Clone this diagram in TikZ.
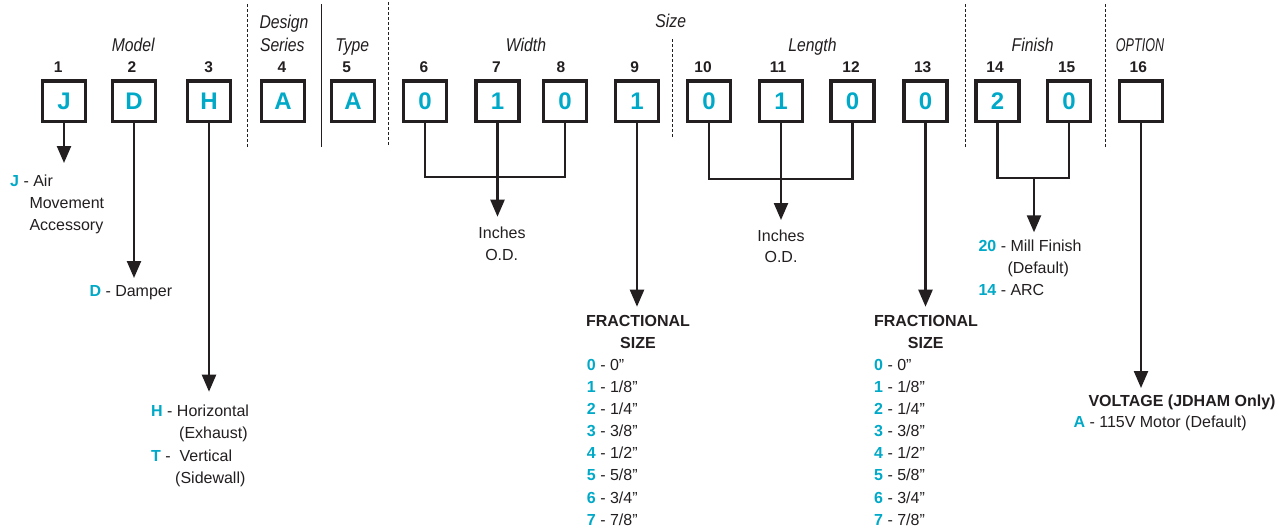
\documentclass[tikz,border=0pt]{standalone}
\usepackage{fontspec}
\setmainfont{Liberation Sans}
\newfontfamily\hdrfont[FakeStretch=0.85]{Liberation Sans}
\newfontfamily\optfont[FakeStretch=0.68]{Liberation Sans}
\usetikzlibrary{arrows.meta}
\definecolor{cy}{RGB}{0,169,199}
\definecolor{ink}{RGB}{35,31,32}
\newcommand\keyrow[5]{\node[txt] (#1) at (#2,#3) {\textcolor{cy}{\textbf{#4}} - #5};}
\begin{document}
\begin{tikzpicture}[x=1pt,y=-1pt,
 codebox/.style={draw=ink, line width=3.3pt, minimum width=43.2pt, minimum height=40.7pt, inner sep=0pt, text=cy, font=\fontsize{24}{24}\selectfont\bfseries},
 num/.style={font=\fontsize{15.5}{16}\selectfont\bfseries, text=ink, inner sep=0pt, anchor=base},
 hdr/.style={font=\fontsize{18.5}{19}\selectfont\hdrfont\itshape, text=ink, inner sep=0pt, anchor=base},
 txt/.style={font=\fontsize{16}{19}\selectfont, text=ink, inner sep=0pt, anchor=base west},
 ctxt/.style={font=\fontsize{16}{19}\selectfont, text=ink, inner sep=0pt, anchor=base},
 btxt/.style={font=\fontsize{16}{19}\selectfont\bfseries, text=ink, inner sep=0pt, anchor=base},
 conn/.style={draw=ink, line width=2.3pt},
 arr/.style={conn, -{Triangle[length=17pt,width=14pt]}},
 sep/.style={draw=ink, line width=1pt, dash pattern=on 3pt off 2pt},
 ssep/.style={draw=ink, line width=1.5pt}]
\useasboundingbox (0,0) rectangle (1287,531);
\fill[white] (0,0) rectangle (1287,531);

% separators
\draw[sep] (247.7,4) -- (247.7,147);
\draw[ssep] (321.7,4) -- (321.7,147);
\draw[sep] (388,2) -- (388,146);
\draw[sep] (672,39) -- (672,138);
\draw[sep] (965,4) -- (965,147);
\draw[sep] (1105,4) -- (1105,147);

% headers
\node[hdr] (hmodel) at (133.3,51.7) {Model};
\node[hdr] (hdesign) at (284,28.3) {Design};
\node[hdr] (hseries) at (282.3,51.7) {Series};
\node[hdr] (htype) at (352.3,51.7) {Type};
\node[hdr] (hwidth) at (526,51.7) {Width};
\node[hdr] (hsize) at (670.7,27.3) {Size};
\node[hdr] (hlength) at (812.5,51.7) {Length};
\node[hdr] (hfinish) at (1032.7,51.7) {Finish};
\node[hdr, font=\fontsize{18.5}{19}\selectfont\optfont\itshape] (hoption) at (1140,51.7) {OPTION};

% position numbers
\node[num] (n1) at (58.3,72.7) {1};
\node[num] (n2) at (132,72.7) {2};
\node[num] (n3) at (208.7,72.7) {3};
\node[num] (n4) at (282,72.7) {4};
\node[num] (n5) at (346.7,72.7) {5};
\node[num] (n6) at (424,72.7) {6};
\node[num] (n7) at (496.5,72.7) {7};
\node[num] (n8) at (561,72.7) {8};
\node[num] (n9) at (634.7,72.7) {9};
\node[num] (n10) at (703,72.7) {10};
\node[num] (n11) at (778,72.7) {11};
\node[num] (n12) at (851,72.7) {12};
\node[num] (n13) at (922.7,72.7) {13};
\node[num] (n14) at (995,72.7) {14};
\node[num] (n15) at (1066.7,72.7) {15};
\node[num] (n16) at (1138.3,72.7) {16};

% code boxes
\node[codebox] (b1) at (64,101.3) {J};
\node[codebox] (b2) at (134,101.3) {D};
\node[codebox] (b3) at (209,101.3) {H};
\node[codebox] (b4) at (283,101.3) {A};
\node[codebox] (b5) at (353,101.3) {A};
\node[codebox] (b6) at (425,101.3) {0};
\node[codebox] (b7) at (497.5,101.3) {1};
\node[codebox] (b8) at (565,101.3) {0};
\node[codebox] (b9) at (637,101.3) {1};
\node[codebox] (b10) at (709,101.3) {0};
\node[codebox] (b11) at (781,101.3) {1};
\node[codebox] (b12) at (852.5,101.3) {0};
\node[codebox] (b13) at (925.5,101.3) {0};
\node[codebox] (b14) at (997.5,101.3) {2};
\node[codebox] (b15) at (1069,101.3) {0};
\node[codebox] (b16) at (1141,101.3) {};

% connector end points
\coordinate (t1) at (64,163);
\coordinate (t2) at (134,278);
\coordinate (t3) at (209,391.7);
\coordinate (wj) at (497.5,177);
\coordinate (wt) at (497.5,216.7);
\coordinate (t9) at (637,306.7);
\coordinate (lj) at (781,179);
\coordinate (lt) at (781,220);
\coordinate (t13) at (925.5,306.7);
\coordinate (fj) at (1034,178);
\coordinate (ft) at (1034,232.3);
\coordinate (t16) at (1141,388);

% connectors
\draw[arr] (b1.south) -- (t1);
\draw[arr] (b2.south) -- (t2);
\draw[arr] (b3.south) -- (t3);
\draw[conn] (b6.south) |- (wj) -| (b8.south);
\draw[arr] (b7.south) -- (wt);
\draw[arr] (b9.south) -- (t9);
\draw[conn] (b10.south) |- (lj) -| (b12.south);
\draw[arr] (b11.south) -- (lt);
\draw[arr] (b13.south) -- (t13);
\draw[conn] (b14.south) |- (fj) -| (b15.south);
\draw[arr] (fj) -- (ft);
\draw[arr] (b16.south) -- (t16);

% Model legends
\keyrow{lj1}{10}{186}{J}{Air}
\node[txt] (lj2) at (29.3,208) {Movement};
\node[txt] (lj3) at (29.3,230.5) {Accessory};
\keyrow{ld1}{89.3}{296.5}{D}{Damper}
\keyrow{lh1}{151}{416.5}{H}{Horizontal}
\node[txt] (lh2) at (179,438.5) {(Exhaust)};
\node[txt] (lt1) at (151,461) {\textcolor{cy}{\textbf{T}} -\ \ Vertical};
\node[txt] (lt2) at (175,483) {(Sidewall)};

% Inches O.D.
\node[ctxt] (wi1) at (502,238.3) {Inches};
\node[ctxt] (wi2) at (501.7,260) {O.D.};
\node[ctxt] (li1) at (781,241.7) {Inches};
\node[ctxt] (li2) at (781,262.7) {O.D.};

% fractional size, width
\node[btxt] (fw1) at (638,326.7) {FRACTIONAL};
\node[btxt] (fw2) at (638,348.3) {SIZE};
\keyrow{wa0}{586.7}{370.7}{0}{0”}
\keyrow{wa1}{586.7}{392.7}{1}{1/8”}
\keyrow{wa2}{586.7}{414.8}{2}{1/4”}
\keyrow{wa3}{586.7}{436.8}{3}{3/8”}
\keyrow{wa4}{586.7}{458.9}{4}{1/2”}
\keyrow{wa5}{586.7}{480.9}{5}{5/8”}
\keyrow{wa6}{586.7}{503.0}{6}{3/4”}
\keyrow{wa7}{586.7}{525.0}{7}{7/8”}

% fractional size, length
\node[btxt] (fl1) at (926,326.7) {FRACTIONAL};
\node[btxt] (fl2) at (925.7,348.3) {SIZE};
\keyrow{la0}{874}{370.7}{0}{0”}
\keyrow{la1}{874}{392.7}{1}{1/8”}
\keyrow{la2}{874}{414.8}{2}{1/4”}
\keyrow{la3}{874}{436.8}{3}{3/8”}
\keyrow{la4}{874}{458.9}{4}{1/2”}
\keyrow{la5}{874}{480.9}{5}{5/8”}
\keyrow{la6}{874}{503.0}{6}{3/4”}
\keyrow{la7}{874}{525.0}{7}{7/8”}

% finish
\keyrow{fi1}{978.3}{251.7}{20}{Mill Finish}
\node[txt] (fi2) at (1007.3,273.7) {(Default)};
\keyrow{fi3}{978.3}{295.7}{14}{ARC}

% option
\node[btxt, anchor=base west] (vo1) at (1088.3,406) {VOLTAGE (JDHAM Only)};
\keyrow{vo2}{1073.3}{427.7}{A}{115V Motor (Default)}
\end{tikzpicture}
\end{document}
